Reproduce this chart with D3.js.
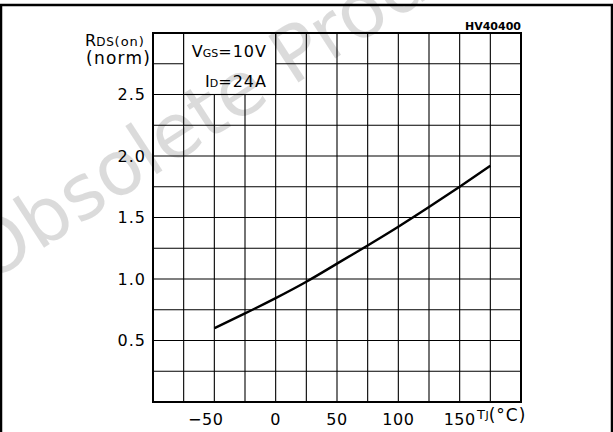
<!DOCTYPE html>
<html>
<head>
<meta charset="utf-8">
<script src="https://cdn.jsdelivr.net/npm/d3@7"></script>
<style>
  body { margin: 0; background: #fff; }
  svg { display: block; }
  text { font-family: "DejaVu Sans", sans-serif; fill: #000; }
</style>
</head>
<body>
<div id="chart"></div>
<script>
// Normalized RDS(on) vs junction temperature
const tempC = [-50, -25, 0, 25, 50, 75, 100, 125, 150, 175];
const rdsNorm = [0.60, 0.72, 0.845, 0.978, 1.125, 1.273, 1.425, 1.585, 1.75, 1.92];

const xTickLabels = [-50, 0, 50, 100, 150];
const yTickLabels = [0.5, 1.0, 1.5, 2.0, 2.5];
const xGrid = [-75, -50, -25, 0, 25, 50, 75, 100, 125, 150, 175];
const yGrid = [0.25, 0.5, 0.75, 1.0, 1.25, 1.5, 1.75, 2.0, 2.25, 2.5, 2.75];

const W = 613, H = 432;
const svg = d3.select("#chart").append("svg")
    .attr("width", W)
    .attr("height", H);

svg.append("rect").attr("width", W).attr("height", H).attr("fill", "#fff");

const x = d3.scaleLinear().domain([-100, 200]).range([153, 521]);
const y = d3.scaleLinear().domain([0, 3]).range([402, 33]);

// outer frame (open at the bottom)
svg.append("path")
    .attr("d", `M1,${H} L1,5 L612,5 L612,${H}`)
    .attr("fill", "none")
    .attr("stroke", "#000")
    .attr("stroke-width", 2.5);

// grid
const grid = svg.append("g").attr("stroke", "#000").attr("stroke-width", 1.1);
grid.selectAll("line.v").data(xGrid).join("line")
    .attr("class", "v")
    .attr("x1", d => x(d)).attr("x2", d => x(d))
    .attr("y1", y(0)).attr("y2", y(3));
grid.selectAll("line.h").data(yGrid).join("line")
    .attr("class", "h")
    .attr("x1", x(-100)).attr("x2", x(200))
    .attr("y1", d => y(d)).attr("y2", d => y(d));

// condition box in the top-left corner
svg.append("rect")
    .attr("x", x(-75)).attr("y", y(3))
    .attr("width", x(0) - x(-75)).attr("height", y(2.5) - y(3))
    .attr("fill", "#fff")
    .attr("stroke", "#000")
    .attr("stroke-width", 1.1);

// plot border
svg.append("rect")
    .attr("x", x(-100)).attr("y", y(3))
    .attr("width", x(200) - x(-100)).attr("height", y(0) - y(3))
    .attr("fill", "none")
    .attr("stroke", "#000")
    .attr("stroke-width", 2);

// curve
const line = d3.line().x((d, i) => x(tempC[i])).y(d => y(d)).curve(d3.curveNatural);
svg.append("path")
    .datum(rdsNorm)
    .attr("d", line)
    .attr("fill", "none")
    .attr("stroke", "#000")
    .attr("stroke-width", 2.4);

// tick labels (the minus sign hangs to the left of the tick)
svg.selectAll("text.xt").data(xTickLabels).join("text")
    .attr("class", "xt")
    .attr("x", d => d < 0 ? x(d) + 9 : x(d))
    .attr("y", 425)
    .attr("text-anchor", d => d < 0 ? "end" : "middle")
    .attr("font-size", 16)
    .attr("letter-spacing", 0.5)
    .text(d => d3.format("d")(d));

svg.selectAll("text.yt").data(yTickLabels).join("text")
    .attr("class", "yt")
    .attr("x", 146)
    .attr("y", d => y(d))
    .attr("dy", "0.36em")
    .attr("text-anchor", "end")
    .attr("font-size", 16)
    .attr("letter-spacing", 1)
    .text(d => d3.format(".1f")(d));

// axis titles
const yt = svg.append("text").attr("x", 85).attr("y", 46).attr("font-size", 16);
yt.append("tspan").text("R");
yt.append("tspan").attr("font-size", 12).attr("letter-spacing", 0.8).text("DS");
yt.append("tspan").attr("font-size", 13).attr("letter-spacing", 1).text("(on)");
svg.append("text").attr("x", 151).attr("y", 64).attr("text-anchor", "end")
    .attr("font-size", 17).attr("letter-spacing", 1.2).text("(norm)");

const xt = svg.append("text").attr("x", 477).attr("y", 421).attr("font-size", 17);
xt.append("tspan").attr("font-size", 13).attr("dy", -2).attr("letter-spacing", 0.5).text("T");
xt.append("tspan").attr("font-size", 11).text("J");
xt.append("tspan").attr("dy", 2).attr("letter-spacing", 1).text("(°C)");

// conditions
const c1 = svg.append("text").attr("x", 267).attr("y", 57).attr("text-anchor", "end").attr("font-size", 16);
c1.append("tspan").text("V");
c1.append("tspan").attr("font-size", 11).text("GS");
c1.append("tspan").attr("letter-spacing", 1).text("=10V");
const c2 = svg.append("text").attr("x", 267).attr("y", 87).attr("text-anchor", "end").attr("font-size", 16);
c2.append("tspan").text("I");
c2.append("tspan").attr("font-size", 11).text("D");
c2.append("tspan").attr("letter-spacing", 1).text("=24A");

// figure code
svg.append("text").attr("x", 521).attr("y", 30).attr("text-anchor", "end")
    .attr("font-size", 11).attr("font-weight", "bold").text("HV40400");

// watermark
svg.append("text")
    .attr("transform", "translate(-12,284) rotate(-33)")
    .attr("font-family", "Liberation Sans, Arial, sans-serif")
    .attr("font-size", 76)
    .style("fill", "#000")
    .style("fill-opacity", 0.14)
    .text("Obsolete Product(s)");
</script>
</body>
</html>
